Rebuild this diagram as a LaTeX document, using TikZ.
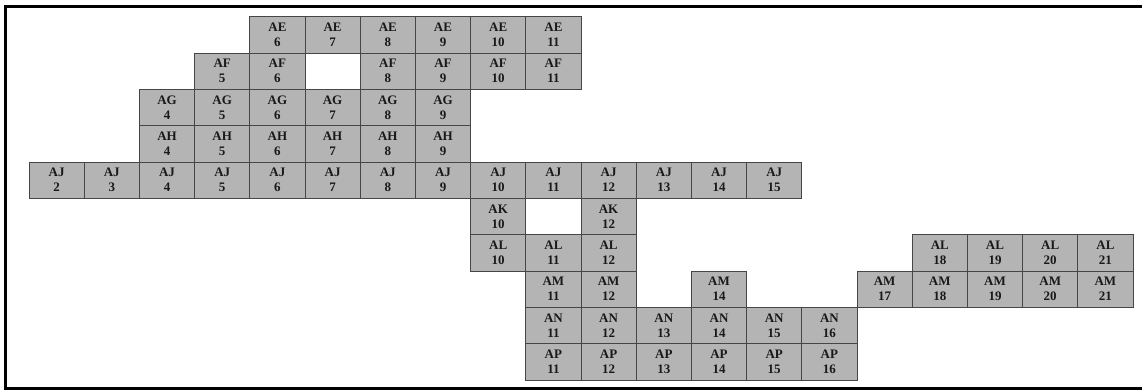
\documentclass[tikz,border=0pt]{standalone}
\usepackage{fontspec}
\setmainfont{Liberation Serif}
\usepackage{tikz}

\definecolor{cellgray}{RGB}{180,180,180}
\definecolor{cellline}{RGB}{70,70,70}

\tikzset{
  cell/.style={draw=cellline, line width=0.8pt, fill=cellgray,
    minimum width=55.2pt, minimum height=36.33pt, inner sep=0pt,
    align=center, text=black!90,
    font=\bfseries\fontsize{13}{15}\selectfont}
}

\begin{document}
\begin{tikzpicture}[x=1pt,y=-1pt]
    \useasboundingbox (0,0) rectangle (1142,390);
    \clip (0,0) rectangle (1142,390);

    % Outer frame (cut off on the right)
    \draw[line width=3.5pt] (5.5,6.5) rectangle (1170,388.5);

    % Cells, row by row: name / row index / columns
    \foreach \row/\r/\cols in {AE/0/{6,...,11}, AF/1/{5,6,8,9,10,11},
        AG/2/{4,...,9}, AH/3/{4,...,9}, AJ/4/{2,...,15}, AK/5/{10,12},
        AL/6/{10,11,12,18,19,20,21}, AM/7/{11,12,14,17,18,19,20,21},
        AN/8/{11,...,16}, AP/9/{11,...,16}}
      \foreach \c in \cols
        \node[cell] (\row-\c) at ({56.6+(\c-2)*55.2},{34.87+\r*36.33}) {\row\\\c};
\end{tikzpicture}
\end{document}
